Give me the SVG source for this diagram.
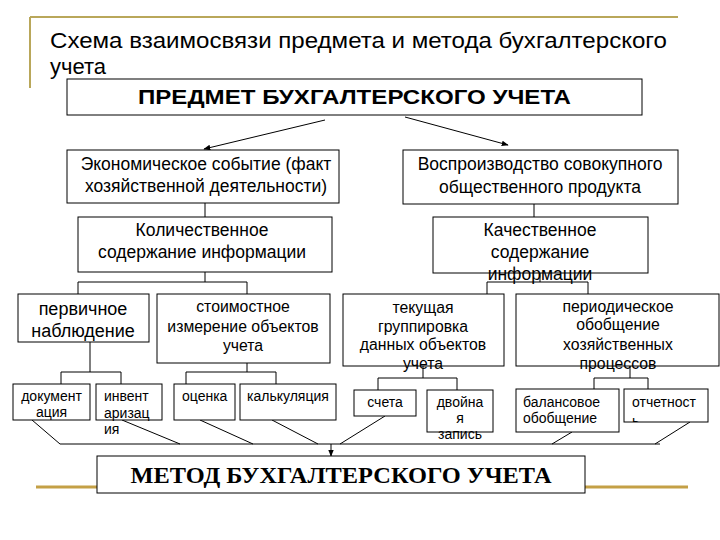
<svg xmlns="http://www.w3.org/2000/svg" width="720" height="540" viewBox="0 0 720 540">
<style>
.b{fill:#fff;stroke:#000;stroke-width:1}
.t{font-family:"Liberation Sans",Arial,sans-serif;fill:#000;text-anchor:middle}
.l{text-anchor:start}
.c{stroke:#000;stroke-width:1;fill:none}
.f16{font-size:17.5px}.f18{font-size:18px}.f15{font-size:15.8px}.f14{font-size:14px}
</style>
<defs>
<marker id="ah" viewBox="0 0 10 10" refX="9" refY="5" markerWidth="7" markerHeight="7" orient="auto" markerUnits="userSpaceOnUse">
<path d="M0,1 L10,5 L0,9 z" fill="#000"/>
</marker>
<clipPath id="clipOtch"><rect x="624" y="389" width="84" height="33"/></clipPath>
</defs>
<rect width="720" height="540" fill="#fff"/>
<g id="decor">
<line x1="30" y1="17" x2="678" y2="17" stroke="#b9a75a" stroke-width="2"/>
<line x1="30" y1="17" x2="30" y2="88" stroke="#b9a75a" stroke-width="2"/>
<line x1="36" y1="487" x2="688" y2="487" stroke="#c4a046" stroke-width="3"/>
</g>
<g id="title">
<text class="t l" x="50" y="48" font-size="22" textLength="617" lengthAdjust="spacingAndGlyphs">Схема взаимосвязи предмета и метода бухгалтерского</text>
<text class="t l" x="50" y="74" font-size="22">учета</text>
</g>
<g id="connectors">
<line class="c" x1="325" y1="120" x2="204" y2="149" marker-end="url(#ah)"/>
<line class="c" x1="405" y1="117" x2="508" y2="145" marker-end="url(#ah)"/>
<line class="c" x1="205" y1="203" x2="205" y2="217"/>
<line class="c" x1="534" y1="204" x2="534" y2="217"/>
<path class="c" d="M205,272 V282 M78,294 V282 H247 V294"/>
<path class="c" d="M540,273 V282 M487,294 V282 H588 V294"/>
<path class="c" d="M90,342 V372 M61,384 V372 H121 V384"/>
<path class="c" d="M247,363 V372 M186,384 V372 H276 V384"/>
<path class="c" d="M423,366 V378 M378,390 V378 H457 V390"/>
<path class="c" d="M630,366 V378 M594,389 V378 H648 V389"/>
<line class="c" x1="60" y1="444" x2="660" y2="444"/>
<line class="c" x1="32" y1="420" x2="60" y2="444"/>
<line class="c" x1="122" y1="420" x2="180" y2="444"/>
<line class="c" x1="200" y1="420" x2="253" y2="444"/>
<line class="c" x1="272" y1="420" x2="318" y2="444"/>
<line class="c" x1="385" y1="416" x2="340" y2="444"/>
<line class="c" x1="572" y1="432" x2="552" y2="444"/>
<line class="c" x1="690" y1="422" x2="655" y2="444"/>
<line class="c" x1="331" y1="444" x2="331" y2="456" marker-end="url(#ah)"/>
</g>
<g id="predmet">
<rect class="b" x="67" y="79" width="575" height="36"/>
<text class="t" x="354.5" y="104" font-size="21" font-weight="bold" textLength="433" lengthAdjust="spacingAndGlyphs">ПРЕДМЕТ БУХГАЛТЕРСКОГО УЧЕТА</text>
</g>
<g id="ekon">
<rect class="b" x="67" y="150" width="272" height="53"/>
<text class="t f16" x="206" y="170">Экономическое событие (факт</text>
<text class="t f16" x="206" y="192">хозяйственной деятельности)</text>
</g>
<g id="vospr">
<rect class="b" x="403" y="150" width="275" height="54"/>
<text class="t f16" x="540" y="170">Воспроизводство совокупного</text>
<text class="t f16" x="540" y="193">общественного продукта</text>
</g>
<g id="kolich">
<rect class="b" x="78" y="217" width="254" height="55"/>
<text class="t f16" x="202" y="236">Количественное</text>
<text class="t f16" x="202" y="258">содержание информации</text>
</g>
<g id="kachest">
<rect class="b" x="433" y="217" width="215" height="56"/>
<text class="t f16" x="540" y="236">Качественное</text>
<text class="t f16" x="540" y="258">содержание</text>
<text class="t f16" x="540" y="280">информации</text>
</g>
<g id="pervich">
<rect class="b" x="18" y="294" width="131" height="48"/>
<text class="t f18" x="83" y="315">первичное</text>
<text class="t f18" x="83" y="337">наблюдение</text>
</g>
<g id="stoim">
<rect class="b" x="157" y="294" width="173" height="69"/>
<text class="t f15" x="243" y="312">стоимостное</text>
<text class="t f15" x="243" y="332">измерение объектов</text>
<text class="t f15" x="243" y="351">учета</text>
</g>
<g id="tekush">
<rect class="b" x="343" y="294" width="161" height="72"/>
<text class="t f15" x="423" y="313">текущая</text>
<text class="t f15" x="423" y="332">группировка</text>
<text class="t f15" x="423" y="350">данных объектов</text>
<text class="t f15" x="423" y="369">учета</text>
</g>
<g id="period">
<rect class="b" x="516" y="294" width="203" height="72"/>
<text class="t f15" x="618" y="312">периодическое</text>
<text class="t f15" x="618" y="330">обобщение</text>
<text class="t f15" x="618" y="350">хозяйственных</text>
<text class="t f15" x="618" y="369">процессов</text>
</g>
<g id="dokum">
<rect class="b" x="13" y="384" width="77" height="36"/>
<text class="t f14" x="51.5" y="401">документ</text>
<text class="t f14" x="51.5" y="417">ация</text>
</g>
<g id="invent">
<rect class="b" x="96" y="384" width="66" height="36"/>
<text class="t l f14" x="104" y="401">инвент</text>
<text class="t l f14" x="104" y="418">аризац</text>
<text class="t l f14" x="104" y="434">ия</text>
</g>
<g id="ocenka">
<rect class="b" x="174" y="384" width="61" height="36"/>
<text class="t l f14" x="182" y="401">оценка</text>
</g>
<g id="kalk">
<rect class="b" x="240" y="384" width="96" height="36"/>
<text class="t l f14" x="247" y="401">калькуляция</text>
</g>
<g id="scheta">
<rect class="b" x="354" y="390" width="62" height="26"/>
<text class="t f14" x="385" y="407">счета</text>
</g>
<g id="dvoin">
<rect class="b" x="427" y="390" width="66" height="42"/>
<text class="t f14" x="460" y="407">двойна</text>
<text class="t f14" x="460" y="423">я</text>
<text class="t f14" x="460" y="439">запись</text>
</g>
<g id="balans">
<rect class="b" x="516" y="389" width="103" height="43"/>
<text class="t l f14" x="523" y="407">балансовое</text>
<text class="t l f14" x="523" y="423">обобщение</text>
</g>
<g id="otchet">
<rect class="b" x="624" y="389" width="84" height="33"/>
<text class="t l f14" x="632" y="407">отчетност</text>
<text class="t l f14" x="632" y="426" clip-path="url(#clipOtch)">ь</text>
</g>
<g id="metod">
<rect class="b" x="97" y="456" width="488" height="37"/>
<text class="t" x="341" y="483" font-size="24" font-weight="bold" textLength="421" lengthAdjust="spacingAndGlyphs" style="font-family:'Liberation Serif','Times New Roman',serif">МЕТОД БУХГАЛТЕРСКОГО УЧЕТА</text>
</g>
</svg>
